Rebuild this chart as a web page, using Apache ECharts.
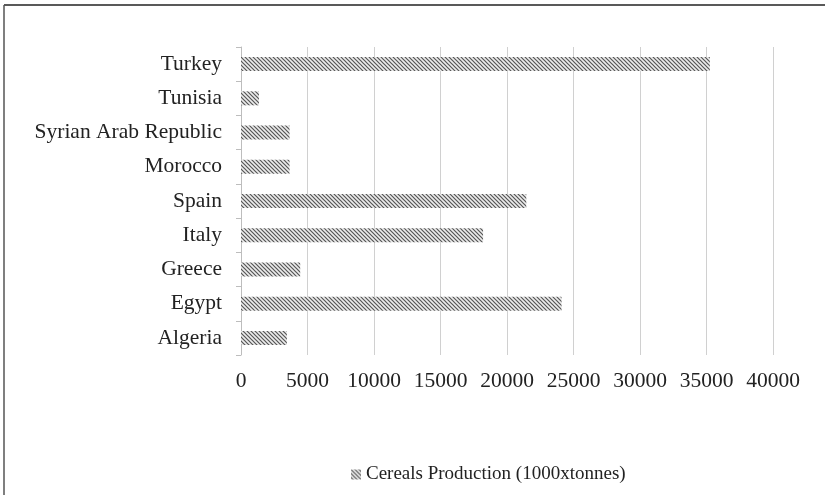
<!DOCTYPE html>
<html>
<head>
<meta charset="utf-8">
<script src="https://cdn.jsdelivr.net/npm/echarts@6/dist/echarts.min.js"></script>
<style>
html,body{margin:0;padding:0;background:#fff;}
#chart{width:825px;height:495px;}
</style>
</head>
<body>
<div id="chart"></div>
<script>
// Data (bottom to top as drawn on the category axis)
const categories = ['Algeria', 'Egypt', 'Greece', 'Italy', 'Spain', 'Morocco', 'Syrian Arab Republic', 'Tunisia', 'Turkey'];
const cerealsProduction = [3450, 24100, 4450, 18200, 21450, 3650, 3650, 1350, 35250];
const xTicks = [0, 5000, 10000, 15000, 20000, 25000, 30000, 35000, 40000];
const seriesName = 'Cereals Production (1000xtonnes)';

// hatch pattern
function makeHatch() {
  const s = 4;
  const c = document.createElement('canvas');
  c.width = s; c.height = s;
  const g = c.getContext('2d');
  g.fillStyle = '#ececec';
  g.fillRect(0, 0, s, s);
  g.strokeStyle = '#555555';
  g.lineWidth = 1.2;
  g.beginPath();
  g.moveTo(-1, -1); g.lineTo(s + 1, s + 1);
  g.moveTo(-1, s - 1); g.lineTo(1, s + 1);
  g.moveTo(s - 1, -1); g.lineTo(s + 1, 1);
  g.stroke();
  return c;
}
const hatch = { image: makeHatch(), repeat: 'repeat' };

const font = 'Liberation Serif';
const chart = echarts.init(document.getElementById('chart'), null, { renderer: 'canvas' });
chart.setOption({
  animation: false,
  backgroundColor: '#fff',
  grid: { left: 241, right: 52, top: 47, bottom: 140, containLabel: false },
  xAxis: {
    type: 'value',
    min: xTicks[0],
    max: xTicks[xTicks.length - 1],
    interval: xTicks[1] - xTicks[0],
    axisLine: { show: false },
    axisTick: { show: false },
    splitLine: { show: true, lineStyle: { color: '#d0d0d0', width: 1 } },
    axisLabel: { fontFamily: font, fontSize: 21.5, color: '#222', margin: 15, formatter: v => String(v) }
  },
  yAxis: {
    type: 'category',
    data: categories,
    axisLine: { show: true, lineStyle: { color: '#bdbdbd', width: 1 } },
    axisTick: { show: true, length: 5, lineStyle: { color: '#bdbdbd' } },
    splitLine: { show: false },
    axisLabel: { fontFamily: font, fontSize: 21.5, color: '#222', margin: 19 }
  },
  legend: {
    data: [seriesName],
    left: 346,
    top: 460,
    itemWidth: 10,
    itemHeight: 10,
    icon: 'rect',
    itemGap: 6,
    textStyle: { fontFamily: font, fontSize: 19, color: '#222' }
  },
  series: [{
    name: seriesName,
    type: 'bar',
    data: cerealsProduction,
    barWidth: 14,
    itemStyle: { color: hatch }
  }],
  graphic: [
    { type: 'line', shape: { x1: 4, y1: 5, x2: 825, y2: 5 }, style: { stroke: '#222', lineWidth: 1.5 } },
    { type: 'line', shape: { x1: 4, y1: 5, x2: 4, y2: 495 }, style: { stroke: '#555', lineWidth: 1.5 } }
  ]
});
</script>
</body>
</html>
